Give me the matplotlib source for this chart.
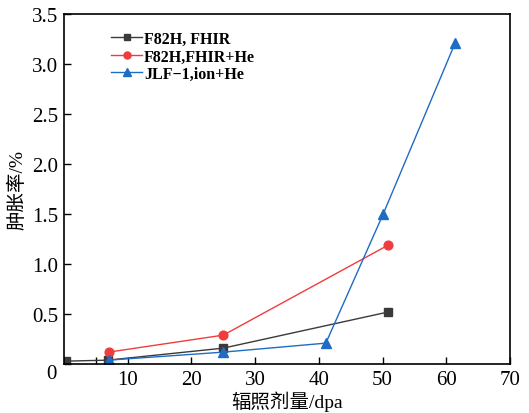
import matplotlib
matplotlib.use('Agg')
import matplotlib.pyplot as plt
import matplotlib.transforms as mtransforms

plt.rcParams['font.family'] = ['Liberation Serif', 'Noto Sans CJK SC']

# ── Data ─────────────────────────────────────────────────────────────────────
x_fhir = [0.3, 6.9, 25.0, 50.8]
y_fhir = [0.03, 0.04, 0.16, 0.52]

x_fhir_he = [7.0, 25.0, 50.9]
y_fhir_he = [0.12, 0.29, 1.19]

x_jlf = [7.0, 25.0, 41.1, 50.1, 61.4]
y_jlf = [0.04, 0.12, 0.21, 1.50, 3.21]

labels = ['F82H, FHIR', 'F82H,FHIR+He', 'JLF\u22121,ion+He']

fig = plt.figure(figsize=(5.29, 4.14), dpi=100)
ax = fig.add_axes([0.121, 0.118, 0.843, 0.846])

ax.plot(x_fhir, y_fhir, '-s', color='#3a3a3a', lw=1.0, ms=5.8, label=labels[0])
ax.plot(x_fhir_he, y_fhir_he, '-o', color='#f03c3c', lw=1.0, ms=6.3, label=labels[1])
ax.plot(x_jlf, y_jlf, '-^', color='#1f6cc4', lw=1.0, ms=7, label=labels[2])

ax.set_xlim(0, 70)
ax.set_ylim(0, 3.5)
ax.set_xticks([5, 10, 20, 30, 40, 50, 60, 70])
ax.set_xticklabels(['', '10', '20', '30', '40', '50', '60', '70'])
ax.set_yticks([0, 0.5, 1.0, 1.5, 2.0, 2.5, 3.0, 3.5])
ax.set_yticklabels(['0', '0.5', '1.0', '1.5', '2.0', '2.5', '3.0', '3.5'])
ax.tick_params(direction='in', length=5, width=1.0, labelsize=15, pad=4)
for s in ax.spines.values():
    s.set_linewidth(1.2)

# shared origin label sits a little lower
zero_lbl = ax.get_yticklabels()[0]
zero_lbl.set_transform(zero_lbl.get_transform() +
                       mtransforms.ScaledTranslation(-0.02, -0.07, fig.dpi_scale_trans))

ax.set_xlabel('辐照剂量/dpa', fontsize=14, labelpad=1)
ax.set_ylabel('肿胀率/%', fontsize=14, labelpad=4)

leg = ax.legend(loc='upper left', bbox_to_anchor=(0.09, 0.97), frameon=False,
                prop={'size': 11.5, 'weight': 'bold'}, handlelength=2.0,
                handletextpad=0.1, labelspacing=0.1, borderaxespad=0,
                markerscale=0.8)

fig.savefig('out.png', dpi=100, facecolor='white')
